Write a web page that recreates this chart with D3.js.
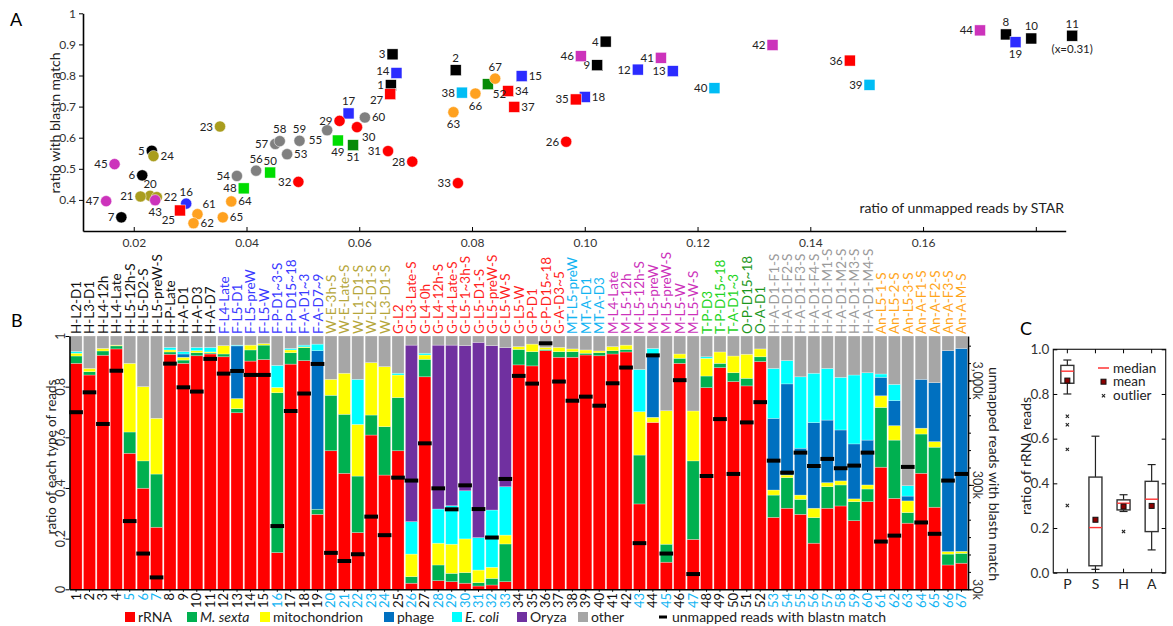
<!DOCTYPE html>
<html>
<head>
<meta charset="utf-8">
<script src="https://cdn.jsdelivr.net/npm/d3@7"></script>
<style>
  body { margin: 0; background: #fff; }
  svg { font-family: Lato, "Open Sans", sans-serif; display: block; }
</style>
</head>
<body>
<svg id="chart" width="1173" height="626"></svg>
<script>
// ---------------- data ----------------
const sampleNames = [
  "H-L2-D1","H-L3-D1","H-L4-12h","H-L4-Late","H-L5-12h-S","H-L5-D2-S","H-L5-preW-S","H-P-Late","H-A-D1","H-A-D3","H-A-D7",
  "F-L4-Late","F-L5-D1","F-L5-preW","F-L5-W","F-P-D1~3-S","F-P-D15~18","F-A-D1~3","F-A-D7~9",
  "W-E-3h-S","W-E-Late-S","W-L1-D1-S","W-L2-D1-S","W-L3-D1-S",
  "G-L2","G-L3-Late-S","G-L4-0h","G-L4-12h-S","G-L4-Late-S","G-L5-1~3h-S","G-L5-D1-S","G-L5-preW-S","G-L5-W-S","G-L5-W","G-P-D1","G-P-D15~18","G-A-D3~5",
  "MT-L5-preW","MT-A-D1","MT-A-D3",
  "M-L4-Late","M-L5-12h","M-L5-12h-S","M-L5-preW","M-L5-preW-S","M-L5-W","M-L5-W-S",
  "T-P-D3","T-P-D15~18","T-A-D1~3","O-P-D15~18","O-A-D1",
  "H-A-D1-F1-S","H-A-D1-F2-S","H-A-D1-F3-S","H-A-D1-F4-S","H-A-D1-M1-S","H-A-D1-M2-S","H-A-D1-M3-S","H-A-D1-M4-S",
  "An-L5-1-S","An-L5-2-S","An-L5-3-S","An-A-F1-S","An-A-F2-S","An-A-F3-S","An-A-M-S"
];

// Panel A: ratio of unmapped reads by STAR (x) and ratio with blastn match (y), per sample
const unmappedRatio = [
  0.0656,0.0771,0.0659,0.1037,0.0232,0.0215,0.0178,0.1747,0.1022,0.1792,0.31,
  0.1094,0.1156,0.0666,0.0888,0.0293,0.0581,0.1000,0.1764,
  0.0229,0.0212,0.0241,0.0353,0.0235,
  0.0282,0.0967,0.0655,0.0694,0.0565,0.0596,0.0651,0.0492,0.0775,0.0864,0.0984,0.1470,0.0875,
  0.0782,0.1505,0.1230,
  0.1135,0.1333,0.0238,0.1701,0.0166,0.0993,0.0151,
  0.0395,0.0562,0.0442,0.0589,0.0828,
  0.0472,0.0383,0.0543,0.0417,0.0451,0.0459,0.0494,0.0610,
  0.0313,0.0306,0.0767,0.0373,0.0358,0.0806,0.0841
];
const blastnRatio = [
  0.769,0.817,0.868,0.909,0.558,0.479,0.344,0.932,0.833,0.919,0.928,
  0.819,0.814,0.808,0.798,0.388,0.678,0.731,0.907,
  0.413,0.411,0.409,0.636,0.541,
  0.366,0.587,0.740,0.523,0.654,0.634,0.557,0.458,0.454,0.750,0.723,0.848,0.699,
  0.745,0.770,0.759,
  0.857,0.898,0.399,0.945,0.515,0.862,0.396,
  0.437,0.591,0.488,0.576,0.772,
  0.547,0.477,0.624,0.494,0.580,0.589,0.590,0.665,
  0.354,0.325,0.682,0.395,0.344,0.742,0.790
];

// Panel B: fraction of each read type per sample (stacked bottom to top; "other" fills to 1)
const rRNA = [0.892,0.846,0.924,0.949,0.537,0.399,0.245,0.928,0.892,0.922,
  0.929,0.918,0.697,0.901,0.907,0.145,0.889,0.903,0.296,0.547,
  0.458,0.224,0.609,0.451,0.547,0.024,0.839,0.034,0.030,0.024,
  0.013,0.017,0.030,0.886,0.882,0.942,0.916,0.916,0.925,0.922,
  0.929,0.937,0.337,0.659,0.107,0.892,0.197,0.796,0.875,0.820,
  0.803,0.899,0.284,0.320,0.296,0.182,0.320,0.329,0.271,0.346,
  0.482,0.359,0.261,0.458,0.324,0.096,0.103];
const mSexta = [0.029,0.013,0.017,0.012,0.084,0.108,0.210,0.009,0.013,0.012,
  0.004,0.011,0.016,0.044,0.057,0.631,0.045,0.051,0.020,0.219,
  0.233,0.223,0.079,0.191,0.210,0.026,0.069,0.062,0.033,0.042,
  0.013,0.026,0.149,0.061,0.056,0.005,0.022,0.022,0.007,0.012,
  0.013,0.010,0.193,0.000,0.071,0.020,0.310,0.046,0.017,0.035,
  0.030,0.019,0.088,0.121,0.059,0.101,0.085,0.083,0.075,0.050,
  0.236,0.230,0.042,0.155,0.237,0.043,0.039];
const mitochondrion = [0.011,0.013,0.010,0.003,0.271,0.293,0.220,0.008,0.011,0.008,
  0.004,0.033,0.040,0.019,0.006,0.021,0.011,0.003,0.000,0.063,
  0.162,0.204,0.207,0.237,0.089,0.089,0.017,0.086,0.115,0.133,
  0.050,0.044,0.035,0.011,0.030,0.008,0.017,0.011,0.013,0.007,
  0.016,0.017,0.171,0.020,0.527,0.017,0.197,0.070,0.045,0.066,
  0.095,0.031,0.020,0.010,0.017,0.037,0.016,0.016,0.011,0.016,
  0.046,0.057,0.046,0.023,0.022,0.010,0.008];
const phage = [0,0,0,0,0,0,0,0,0.013,0,
  0,0,0.208,0,0,0,0,0,0.626,0,
  0,0,0,0,0,0,0,0,0,0,
  0,0,0,0,0,0,0,0,0,0,
  0,0,0,0.246,0,0,0,0,0,0,
  0,0,0.283,0.360,0.185,0.338,0.247,0.201,0.217,0.177,
  0.073,0.099,0.019,0.193,0.233,0.793,0.801];
const eColi = [0.007,0,0,0,0,0,0,0.010,0.009,0.013,
  0.018,0,0.003,0,0,0.087,0.006,0.007,0.026,0,
  0,0.178,0,0,0.007,0.128,0.007,0.135,0.152,0.190,
  0.128,0.226,0.191,0,0,0,0,0,0,0,
  0,0,0.167,0.026,0,0,0,0.006,0,0,
  0,0,0.197,0.092,0.282,0.195,0.204,0.208,0.272,0.266,
  0.013,0.064,0.041,0,0,0,0];
const oryza = [0,0,0,0,0,0,0,0,0,0,
  0,0,0,0,0,0,0,0,0,0,
  0,0,0,0,0,0.697,0,0.647,0.634,0.573,
  0.771,0.649,0.549,0,0,0,0,0,0,0,
  0,0,0,0,0,0,0,0,0,0,
  0,0,0,0,0,0,0,0,0,0,
  0,0,0,0,0,0,0];
// unmapped reads with blastn match (thousands of reads, right log axis)
const blastnReadsK = [1490,2310,1150,3720,135,66,39,4350,2580,2350,
  4830,3490,3700,3390,3390,121,1530,2250,4320,67,
  56,65,149,99,352,330,750,278,175,297,
  176,94,342,3320,2800,6810,2930,1920,2100,1720,
  2820,3990,83,5220,66,3020,42,365,1280,382,
  1190,1860,512,393,611,455,532,433,459,611,
  86,98,446,131,102,330,382];
const leftTicksB = [0, 0.2, 0.4, 0.6, 0.8, 1];
const rightTicksB = [30, 300, 3000];
const rightTickLabelsB = ["30k", "300k", "3,000k"];

// Panel C: ratio of rRNA reads, box summary per group
const boxGroups = ["P", "S", "H", "A"];
const boxWhiskerLow = [0.80, 0.015, 0.274, 0.102];
const boxQ1 = [0.848, 0.031, 0.281, 0.184];
const boxMedian = [0.902, 0.202, 0.311, 0.329];
const boxQ3 = [0.928, 0.428, 0.326, 0.409];
const boxWhiskerHigh = [0.952, 0.611, 0.349, 0.484];
const boxMean = [0.860, 0.237, 0.296, 0.299];
const boxOutliers = [[0.70, 0.662, 0.552, 0.301], [], [0.184], []];

const xTicksA = [0.02, 0.04, 0.06, 0.08, 0.10, 0.12, 0.14, 0.16, 0.18];
const yTicksA = [0.4, 0.5, 0.6, 0.7, 0.8, 0.9, 1];

// ---------------- styling ----------------
const groupOf = name => {
  const parts = name.split("-");
  if (parts[0] === "H" && parts.length === 5) return "HD";
  return parts[0];
};
const isStressed = name => name.endsWith("-S");

const pointColor = { H: "#000000", F: "#2b2bff", W: "#a99d1e", G: "#ff0000", MT: "#00bdf5",
  M: "#cc33bb", T: "#00dd00", O: "#078a07", HD: "#808080", An: "#ffa11f" };
const labelColor = { H: "#111111", F: "#3a3aff", W: "#b5a63a", G: "#ff1f1f", MT: "#12b4f2",
  M: "#cc33bb", T: "#22d422", O: "#1c971c", HD: "#9a9a9a", An: "#ffa51c" };

const layerKeys = ["rRNA", "mSexta", "mito", "phage", "eColi", "oryza", "other"];
const layerColor = { rRNA: "#ff0000", mSexta: "#00b050", mito: "#ffff00", phage: "#0070c0",
  eColi: "#00ffff", oryza: "#7030a0", other: "#a6a6a6" };

// label placement around each scatter marker
const labelSide = ["l","a","l","l","l","l","l","a","l","a","a",
  "l","l","lu","r","a","a","r","b",
  "a","l","r","l","r",
  "bl","l","ld","l","l","br","l","l","l","r","l","l","r",
  "l","l","l",
  "l","l","b","l","l","l","l",
  "l","b","a","b","br",
  "r","l","bl","a","l","a","a","r",
  "ar","r","b","r","r","b","a"];
const sideOffset = { l: [-7, 4, "end"], lu: [-7, 2, "end"], ld: [-7, 10, "end"], r: [7, 4, "start"],
  a: [0, -8, "middle"], b: [0, 16, "middle"],
  bl: [-5, 14, "end"], br: [5, 14, "start"], ar: [5, -6, "start"] };

const svg = d3.select("#chart");

// ================= Panel A: scatter =================
const xA = d3.scaleLinear().domain([0.011, 0.1853]).range([83, 1065.7]);
const yA = d3.scaleLinear().domain([0.3, 1]).range([231, 13.3]);
const gA = svg.append("g");

gA.append("g")
  .attr("transform", "translate(0,231)")
  .call(d3.axisBottom(xA).tickValues(xTicksA).tickSizeInner(-4).tickSizeOuter(0).tickPadding(7)
    .tickFormat(d => d > 0.17 ? "" : d3.format(".2f")(d)))
  .call(g => g.selectAll("text").attr("font-size", 12).attr("fill", "#333").attr("font-family", "Lato"))
  .call(g => g.select(".domain").attr("stroke-width", 1.6));

gA.append("g")
  .attr("transform", "translate(83,0)")
  .call(d3.axisLeft(yA).tickValues(yTicksA).tickSize(4).tickSizeOuter(0).tickPadding(3)
    .tickFormat(d => d === 1 ? "1" : d3.format(".1f")(d)))
  .call(g => g.selectAll("text").attr("font-size", 12).attr("fill", "#333").attr("font-family", "Lato"))
  .call(g => g.select(".domain").attr("stroke-width", 1.6));

gA.append("text").attr("x", 10).attr("y", 26).attr("font-size", 18).text("A");
gA.append("text").attr("transform", "translate(60,123) rotate(-90)").attr("text-anchor", "middle")
  .attr("font-size", 14).attr("fill", "#222").text("ratio with blastn match");
gA.append("text").attr("x", 1064).attr("y", 213).attr("text-anchor", "end")
  .attr("font-size", 14).attr("fill", "#222").text("ratio of unmapped reads by STAR");

const scatter = sampleNames.map((name, i) => ({
  id: i + 1, name, x: unmappedRatio[i], y: blastnRatio[i],
  group: groupOf(name), stressed: isStressed(name), side: labelSide[i]
}));
const xMaxA = xA.domain()[1];
const px = d => d.x > xMaxA ? xA.range()[1] + 6.5 : xA(d.x);

const pts = gA.append("g").selectAll("g").data(scatter).join("g")
  .attr("transform", d => `translate(${px(d)},${yA(d.y)})`);
pts.filter(d => d.stressed).append("circle").attr("r", 5.6)
  .attr("fill", d => pointColor[d.group]).attr("stroke", "#fff").attr("stroke-width", 0.5);
pts.filter(d => !d.stressed).append("rect").attr("x", -5.5).attr("y", -5.5)
  .attr("width", 11).attr("height", 11)
  .attr("fill", d => pointColor[d.group]).attr("stroke", "#fff").attr("stroke-width", 0.5);
pts.append("text")
  .attr("x", d => sideOffset[d.side][0]).attr("y", d => sideOffset[d.side][1])
  .attr("text-anchor", d => sideOffset[d.side][2])
  .attr("font-size", 11.5).attr("fill", "#222").text(d => d.id);
pts.filter(d => d.x > xMaxA).append("text").attr("y", 17).attr("text-anchor", "middle")
  .attr("font-size", 11.5).attr("fill", "#222").text(d => `(x=${d.x})`);

// ================= Panel B: stacked bars =================
const table = sampleNames.map((name, i) => {
  const row = { id: String(i + 1), name, group: groupOf(name), stressed: isStressed(name),
    rRNA: rRNA[i], mSexta: mSexta[i], mito: mitochondrion[i], phage: phage[i], eColi: eColi[i], oryza: oryza[i],
    blastn: blastnReadsK[i] };
  row.other = Math.max(0, 1 - (row.rRNA + row.mSexta + row.mito + row.phage + row.eColi + row.oryza));
  return row;
});
const xB = d3.scaleBand().domain(table.map(d => d.id)).range([69.5, 968]).paddingInner(0.1).paddingOuter(0.04);
const yB = d3.scaleLinear().domain([0, 1]).range([589.3, 336]);
const yR = d3.scaleLog().domain([30, 8000]).range([589.3, 336]);
const gB = svg.append("g");

const series = d3.stack().keys(layerKeys)(table);
gB.append("g").selectAll("g").data(series).join("g")
  .attr("fill", s => layerColor[s.key])
  .selectAll("rect").data(s => s).join("rect")
  .attr("x", d => xB(d.data.id)).attr("width", xB.bandwidth())
  .attr("y", d => yB(d[1])).attr("height", d => Math.max(0, yB(d[0]) - yB(d[1])))
  .attr("stroke", "rgba(255,255,255,0.45)").attr("stroke-width", 0.6);

// read-count markers
gB.append("g").selectAll("rect").data(table).join("rect")
  .attr("x", d => xB(d.id) - 0.8).attr("width", xB.bandwidth() + 1.6)
  .attr("y", d => yR(d.blastn) - 2).attr("height", 4).attr("fill", "#000");

// left axis
gB.append("g").attr("transform", "translate(69.5,0)")
  .call(d3.axisLeft(yB).tickValues(leftTicksB).tickSize(4).tickSizeOuter(0).tickFormat(""))
  .call(g => g.select(".domain").attr("stroke-width", 1.6));
gB.append("g").selectAll("text").data(leftTicksB).join("text")
  .attr("transform", d => `translate(65,${yB(d)}) rotate(-90)`)
  .attr("text-anchor", "middle").attr("font-size", 12.5).attr("fill", "#333")
  .text(d => d3.format("~g")(d));
gB.append("text").attr("transform", "translate(55.5,457) rotate(-90)").attr("text-anchor", "middle")
  .attr("font-size", 13.5).attr("fill", "#222").text("ratio of each type of reads");

// bottom axis
gB.append("g").attr("transform", "translate(0,589.3)")
  .call(d3.axisBottom(xB).tickSize(2.5).tickSizeOuter(0).tickFormat(""))
  .call(g => g.select(".domain").attr("stroke-width", 1.4));
gB.append("g").selectAll("text").data(table).join("text")
  .attr("transform", d => `translate(${xB(d.id) + xB.bandwidth() / 2 + 4.5},593) rotate(-90)`)
  .attr("text-anchor", "end").attr("font-size", 13)
  .attr("fill", d => d.stressed ? "#12b4f2" : "#111").text(d => d.id);

// sample names above bars
gB.append("g").selectAll("text").data(table).join("text")
  .attr("transform", d => `translate(${xB(d.id) + xB.bandwidth() / 2 + 5},334) rotate(-90)`)
  .attr("text-anchor", "start").attr("font-size", 13.5)
  .attr("fill", d => labelColor[d.group]).text(d => d.name);

// right log axis
const rightMinor = d3.range(0, 15).map(k => 30 * Math.pow(10, k / 6)).filter(v => v <= 8000);
gB.append("g").attr("transform", "translate(968,0)")
  .call(d3.axisRight(yR).tickValues(rightMinor).tickSize(3).tickSizeOuter(0).tickFormat(""))
  .call(g => g.select(".domain").attr("stroke-width", 1.6));
gB.append("g").attr("transform", "translate(968,0)")
  .call(d3.axisRight(yR).tickValues(rightTicksB).tickSize(6).tickSizeOuter(0).tickFormat(""))
  .call(g => g.select(".domain").remove());
gB.append("g").selectAll("text").data(rightTicksB).join("text")
  .attr("transform", d => `translate(972.5,${yR(d)}) rotate(90)`)
  .attr("text-anchor", "middle").attr("font-size", 12.5).attr("fill", "#333")
  .text((d, i) => rightTickLabelsB[i]);
gB.append("text").attr("transform", "translate(989,474) rotate(90)").attr("text-anchor", "middle")
  .attr("font-size", 14).attr("fill", "#222").text("unmapped reads with blastn match");

gB.append("text").attr("x", 11).attr("y", 327).attr("font-size", 18).text("B");

// legend
const legendItems = [
  { key: "rRNA", label: "rRNA", x: 125 },
  { key: "mSexta", label: "M. sexta", x: 187, italic: true },
  { key: "mito", label: "mitochondrion", x: 260 },
  { key: "phage", label: "phage", x: 384 },
  { key: "eColi", label: "E. coli", x: 452, italic: true },
  { key: "oryza", label: "Oryza", x: 517 },
  { key: "other", label: "other", x: 578 }
];
const leg = gB.append("g").selectAll("g").data(legendItems).join("g")
  .attr("transform", d => `translate(${d.x},612)`);
leg.append("rect").attr("width", 10).attr("height", 10).attr("fill", d => layerColor[d.key]);
leg.append("text").attr("x", 13).attr("y", 9.5).attr("font-size", 14).attr("fill", "#222")
  .attr("font-style", d => d.italic ? "italic" : "normal").text(d => d.label);
gB.append("rect").attr("x", 659).attr("y", 615.5).attr("width", 8).attr("height", 3).attr("fill", "#000");
gB.append("text").attr("x", 672).attr("y", 621.5).attr("font-size", 14).attr("fill", "#222")
  .text("unmapped reads with blastn match");

// ================= Panel C: box plot =================
const xC = d3.scaleBand().domain(boxGroups).range([1053.3, 1165.7]);
const yC = d3.scaleLinear().domain([0, 1]).range([572.7, 349.3]);
const gC = svg.append("g");
const boxes = boxGroups.map((g, i) => ({ g, lo: boxWhiskerLow[i], q1: boxQ1[i], med: boxMedian[i],
  q3: boxQ3[i], hi: boxWhiskerHigh[i], mean: boxMean[i], out: boxOutliers[i] }));
const cx = g => xC(g) + xC.bandwidth() / 2;
const bw = 13, cap = 8;

gC.append("rect").attr("x", 1053.3).attr("y", 349.3).attr("width", 112.4).attr("height", 223.4)
  .attr("fill", "none").attr("stroke", "#222").attr("stroke-width", 1.2);
const yTicksC = [0, 0.2, 0.4, 0.6, 0.8, 1.0];
gC.append("g").attr("transform", "translate(1053.3,0)")
  .call(d3.axisLeft(yC).tickValues(yTicksC).tickSizeInner(-4).tickSizeOuter(0).tickPadding(4)
    .tickFormat(d3.format(".1f")))
  .call(g => g.select(".domain").remove())
  .call(g => g.selectAll("text").attr("font-size", 13.5).attr("fill", "#333").attr("font-family", "Lato"));
gC.append("g").attr("transform", "translate(1165.7,0)")
  .call(d3.axisRight(yC).tickValues(yTicksC).tickSizeInner(-4).tickSizeOuter(0).tickFormat(""))
  .call(g => g.select(".domain").remove());
gC.append("g").attr("transform", "translate(0,572.7)")
  .call(d3.axisBottom(xC).tickSizeInner(-4).tickSizeOuter(0).tickPadding(6))
  .call(g => g.select(".domain").remove())
  .call(g => g.selectAll("text").attr("font-size", 14).attr("fill", "#222").attr("font-family", "Lato"));
gC.append("g").attr("transform", "translate(0,349.3)")
  .call(d3.axisTop(xC).tickSizeInner(-4).tickSizeOuter(0).tickFormat(""))
  .call(g => g.select(".domain").remove());

const bx = gC.append("g").selectAll("g").data(boxes).join("g");
bx.append("line").attr("x1", d => cx(d.g)).attr("x2", d => cx(d.g))
  .attr("y1", d => yC(d.lo)).attr("y2", d => yC(d.q1)).attr("stroke", "#222").attr("stroke-width", 1.2);
bx.append("line").attr("x1", d => cx(d.g)).attr("x2", d => cx(d.g))
  .attr("y1", d => yC(d.q3)).attr("y2", d => yC(d.hi)).attr("stroke", "#222").attr("stroke-width", 1.2);
bx.append("line").attr("x1", d => cx(d.g) - cap / 2).attr("x2", d => cx(d.g) + cap / 2)
  .attr("y1", d => yC(d.lo)).attr("y2", d => yC(d.lo)).attr("stroke", "#222").attr("stroke-width", 1.2);
bx.append("line").attr("x1", d => cx(d.g) - cap / 2).attr("x2", d => cx(d.g) + cap / 2)
  .attr("y1", d => yC(d.hi)).attr("y2", d => yC(d.hi)).attr("stroke", "#222").attr("stroke-width", 1.2);
bx.append("rect").attr("x", d => cx(d.g) - bw / 2).attr("width", bw)
  .attr("y", d => yC(d.q3)).attr("height", d => yC(d.q1) - yC(d.q3))
  .attr("fill", "#fff").attr("stroke", "#333").attr("stroke-width", 1.4);
bx.append("line").attr("x1", d => cx(d.g) - bw / 2).attr("x2", d => cx(d.g) + bw / 2)
  .attr("y1", d => yC(d.med)).attr("y2", d => yC(d.med)).attr("stroke", "#ff3333").attr("stroke-width", 1.4);
bx.append("rect").attr("x", d => cx(d.g) - 2.5).attr("y", d => yC(d.mean) - 2.5)
  .attr("width", 5).attr("height", 5).attr("fill", "#8b0000").attr("stroke", "#111").attr("stroke-width", 1);

const crossPath = (x, y, s) => `M${x - s},${y - s}L${x + s},${y + s}M${x - s},${y + s}L${x + s},${y - s}`;
bx.selectAll("path").data(d => d.out.map(v => ({ g: d.g, v }))).join("path")
  .attr("d", d => crossPath(cx(d.g), yC(d.v), 1.6)).attr("stroke", "#222").attr("stroke-width", 1.1);

// legend inside panel C
gC.append("line").attr("x1", 1098).attr("x2", 1109).attr("y1", 368).attr("y2", 368)
  .attr("stroke", "#ff3333").attr("stroke-width", 1.5);
gC.append("rect").attr("x", 1101).attr("y", 379.2).attr("width", 5).attr("height", 5)
  .attr("fill", "#8b0000").attr("stroke", "#111").attr("stroke-width", 1);
gC.append("path").attr("d", crossPath(1103.5, 395.7, 1.6)).attr("stroke", "#222").attr("stroke-width", 1.1);
[["median", 372.5], ["mean", 386.3], ["outlier", 400.3]].forEach(([t, y]) =>
  gC.append("text").attr("x", 1113).attr("y", y).attr("font-size", 13.5).attr("fill", "#222").text(t));

gC.append("text").attr("transform", "translate(1031,456) rotate(-90)").attr("text-anchor", "middle")
  .attr("font-size", 14).attr("fill", "#222").text("ratio of rRNA reads");
gC.append("text").attr("x", 1020).attr("y", 335).attr("font-size", 18).text("C");
</script>
</body>
</html>
